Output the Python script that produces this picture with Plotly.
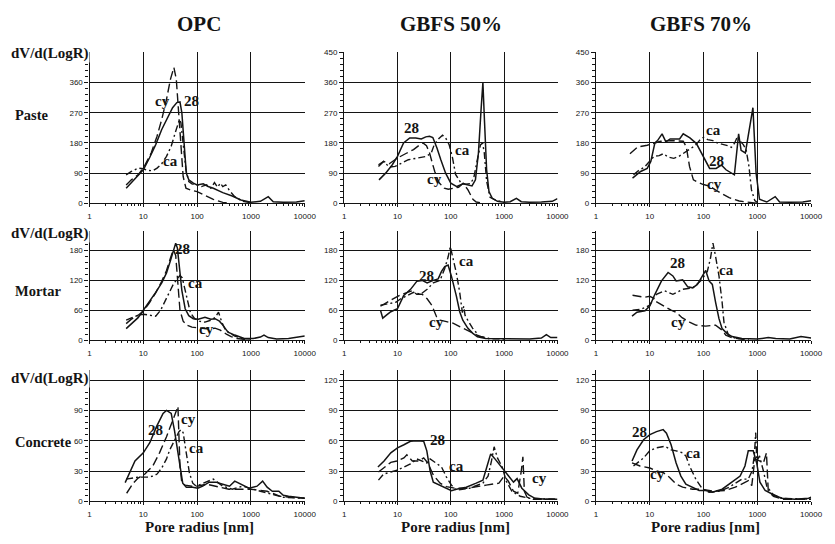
import math
import plotly.graph_objects as go
from plotly.subplots import make_subplots

# ---------------- Pore size distributions: dV/d(logR) vs pore radius [nm] ----------------
# Series per panel: "28" (solid), "ca" (dash-dot), "cy" (dashed)

# OPC - Paste
OPC_PASTE_28_R = [4.8, 6, 8, 10, 13, 17, 22, 28, 35, 42, 48, 52, 57, 63, 70, 85, 100, 130, 160, 200, 300, 450, 650, 1000, 1500, 2100, 2600, 4000, 7000, 10000]
OPC_PASTE_28_V = [45, 62, 82, 100, 135, 175, 220, 255, 285, 300, 302, 270, 180, 90, 70, 60, 55, 58, 50, 45, 32, 22, 10, 3, 6, 20, 5, 3, 4, 8]
OPC_PASTE_CA_R = [4.8, 6, 8, 10, 12, 15, 18, 22, 27, 33, 40, 47, 50, 55, 62, 70, 80, 100, 120, 150, 180, 210, 240, 270, 300, 340, 400, 500, 700, 1000]
OPC_PASTE_CA_V = [85, 95, 105, 103, 98, 97, 105, 118, 140, 170, 215, 250, 240, 180, 100, 65, 58, 55, 50, 55, 45, 62, 48, 60, 50, 55, 38, 20, 6, 2]
OPC_PASTE_CY_R = [4.8, 6, 8, 10, 14, 18, 22, 27, 32, 37, 41, 45, 50, 55, 62, 75, 100, 150, 200, 300, 400]
OPC_PASTE_CY_V = [55, 70, 85, 105, 150, 200, 250, 310, 370, 405, 370, 280, 170, 80, 45, 40, 35, 22, 12, 3, 1]

# GBFS 50% - Paste
G50_PASTE_28_R = [4.5, 6, 8, 10, 13, 17, 22, 28, 34, 40, 46, 55, 65, 80, 100, 130, 170, 210, 250, 290, 330, 370, 400, 430, 470, 520, 600, 750, 1000, 1300, 1700, 2100, 3000, 5000, 8000, 10000]
G50_PASTE_28_V = [70, 90, 115, 140, 180, 195, 195, 192, 198, 200, 196, 165, 130, 90, 60, 50, 58, 55, 52, 70, 150, 280, 360, 240, 100, 35, 15, 6, 3, 5, 15, 5, 3, 4, 6, 14]
G50_PASTE_CA_R = [4.4, 5.5, 7, 9, 12, 16, 24, 35, 43, 49, 60, 70, 80, 93, 108, 123, 153, 190, 235, 270, 310, 360, 395, 425, 470, 545, 730, 1000]
G50_PASTE_CA_V = [115, 125, 108, 110, 120, 130, 135, 140, 150, 175, 193, 203, 195, 175, 135, 86, 62, 57, 59, 76, 125, 174, 180, 150, 66, 18, 8, 3]
G50_PASTE_CY_R = [4.4, 5.5, 7, 10, 15, 20, 25, 30, 35, 40, 45, 50, 60, 75, 90, 110, 140, 170, 210, 260, 300, 400]
G50_PASTE_CY_V = [110, 125, 118, 135, 150, 160, 172, 180, 172, 150, 120, 95, 62, 45, 42, 44, 48, 60, 40, 12, 4, 1]

# GBFS 70% - Paste
G70_PASTE_28_R = [4.8, 6.8, 9, 10.5, 12.5, 14, 17, 20, 24, 30, 36, 42, 56, 74, 98, 130, 172, 215, 262, 325, 375, 450, 500, 600, 720, 830, 950, 1100, 1500, 2150, 2600, 4000, 7000, 10000]
G70_PASTE_28_V = [75, 95, 104, 125, 180, 187, 207, 183, 192, 192, 192, 207, 195, 178, 139, 104, 104, 114, 100, 90, 85, 207, 158, 150, 230, 285, 90, 12, 4, 20, 4, 3, 4, 8]
G70_PASTE_CA_R = [5, 6.5, 8, 10, 12, 15, 18, 22, 28, 35, 42, 55, 70, 85, 100, 120, 150, 180, 230, 280, 330, 380, 430, 480, 550, 620, 700, 780, 900, 1000]
G70_PASTE_CA_V = [85, 100, 108, 125, 140, 142, 148, 138, 134, 140, 148, 160, 172, 188, 197, 190, 187, 180, 176, 172, 167, 180, 200, 185, 175, 160, 110, 40, 8, 3]
G70_PASTE_CY_R = [4.3, 6, 9, 12, 16, 25, 35, 42, 48, 55, 65, 80, 100, 130, 175, 240, 300, 460, 700, 1000]
G70_PASTE_CY_V = [148, 168, 173, 178, 185, 187, 187, 185, 168, 110, 70, 62, 56, 51, 38, 25, 17, 7, 2, 0]

# OPC - Mortar
OPC_MORTAR_28_R = [4.8, 6, 8, 10, 13, 17, 22, 27, 32, 37, 40, 43, 47, 52, 60, 70, 85, 105, 140, 180, 215, 260, 300, 375, 500, 750, 1100, 1500, 1750, 2100, 3000, 5000, 10000]
OPC_MORTAR_28_V = [23, 32, 45, 60, 77, 96, 115, 135, 160, 183, 195, 185, 150, 100, 63, 49, 43, 42, 46, 42, 43, 38, 30, 16, 10, 3, 3, 6, 10, 5, 2, 3, 8]
OPC_MORTAR_CA_R = [4.8, 6, 8, 10, 13, 17, 21, 26, 31, 36, 42, 48, 53, 58, 65, 75, 90, 110, 140, 180, 215, 250, 290, 330, 400, 500, 700, 1000]
OPC_MORTAR_CA_V = [40, 45, 50, 52, 50, 48, 60, 82, 100, 112, 122, 130, 125, 105, 80, 55, 43, 38, 36, 40, 45, 56, 35, 22, 14, 8, 3, 2]
OPC_MORTAR_CY_R = [4.8, 6, 8, 10, 13, 17, 22, 27, 32, 36, 40, 44, 48, 55, 65, 80, 100, 130, 170, 215, 270, 350, 430, 550, 800]
OPC_MORTAR_CY_V = [33, 42, 50, 58, 75, 95, 118, 140, 165, 182, 170, 110, 60, 38, 30, 26, 25, 24, 22, 24, 20, 12, 7, 3, 1]

# GBFS 50% - Mortar
G50_MORTAR_28_R = [4.8, 5.3, 6.2, 7.5, 10, 13, 17.6, 23, 29, 36, 47, 58, 67, 77, 89, 103, 127, 147, 168, 208, 256, 316, 450, 1000, 3000, 5000, 6200, 7500, 10000]
G50_MORTAR_28_V = [60, 44, 50, 57, 63, 89, 102, 118, 120, 115, 120, 123, 138, 148, 151, 128, 89, 57, 40, 24, 14, 6.5, 3, 2, 2, 4, 11, 5, 5]
G50_MORTAR_CA_R = [4.8, 6.5, 9.3, 11.5, 15, 20, 27, 36, 47, 63, 77, 89, 98, 110, 127, 147, 165, 175, 185, 208, 256, 340, 520, 1000]
G50_MORTAR_CA_V = [70, 73, 76, 83, 89, 96, 92, 102, 115, 120, 144, 167, 188, 167, 135, 96, 55, 68, 50, 40, 24, 8, 3, 2]
G50_MORTAR_CY_R = [4.8, 7, 9.3, 12, 15, 18.8, 23, 29, 36, 44, 54, 63, 83, 110, 147, 195, 256, 340, 520]
G50_MORTAR_CY_V = [68, 79, 86, 92, 96, 99, 92, 92, 83, 70, 47, 40, 37, 34, 27, 21, 14, 8, 3]

# GBFS 70% - Mortar
G70_MORTAR_28_R = [4.7, 5.8, 8.2, 10.1, 12.5, 16.6, 22, 27, 31, 41, 51, 63, 77, 96, 110, 127, 146, 168, 194, 222, 275, 340, 515, 1000, 1600, 2200, 4000, 6500, 8500, 10000]
G70_MORTAR_28_V = [48, 56, 59, 69, 92, 119, 136, 129, 119, 121, 107, 105, 112, 129, 140, 119, 112, 76, 43, 23, 13, 7, 3, 2, 5, 3, 2, 7, 5, 4]
G70_MORTAR_CA_R = [4.8, 7, 10, 13.4, 19, 27, 41, 63, 89, 118, 135, 150, 168, 194, 222, 240, 290, 400, 700]
G70_MORTAR_CA_V = [60, 62, 70, 92, 99, 92, 102, 105, 119, 138, 165, 195, 168, 129, 76, 36, 10, 3, 2]
G70_MORTAR_CY_R = [4.8, 6, 8, 10, 11.5, 13, 16, 20.5, 25, 31, 40, 55, 72, 110, 168, 222, 260, 350, 600]
G70_MORTAR_CY_V = [90, 88, 86, 88, 85, 78, 72, 66, 60, 56, 45, 36, 30, 28, 30, 20, 10, 4, 1]

# OPC - Concrete
OPC_CONC_28_R = [4.6, 5.7, 7, 10, 13.2, 17.6, 23.3, 27, 33, 38, 42, 47, 54, 63, 83, 103, 127, 168, 223, 300, 400, 500, 600, 920, 1300, 1650, 2000, 2500, 3300, 4000, 5000, 7000, 10000]
OPC_CONC_28_V = [18.5, 30, 40, 48, 58, 74, 87, 90, 87, 70, 55, 40, 18, 14, 14, 13, 15, 19, 19, 17, 15, 20, 18, 13, 15, 20, 14, 10, 10, 6, 5, 4, 3]
OPC_CONC_CA_R = [4.8, 6, 8, 10, 12, 15, 18, 22, 27, 31, 36, 41, 46, 50, 55, 62, 72, 83, 96, 130, 200, 300, 450, 700, 1000, 1500, 2500, 4000, 10000]
OPC_CONC_CA_V = [22, 23, 24, 24, 24, 25, 27, 33, 42, 51, 58, 64, 69, 71, 68, 50, 28, 18, 15, 18, 22, 15, 12, 15, 13, 10, 7, 4, 3]
OPC_CONC_CY_R = [4.9, 6.5, 8, 10.7, 15, 20, 27, 35.7, 40, 44, 46, 48, 52, 60, 80, 100, 150, 250, 390, 600, 1000, 2000, 3500, 10000]
OPC_CONC_CY_V = [8, 18, 23, 27, 35, 48, 64, 80, 88, 94, 70, 35, 18, 16, 15, 15, 17, 14, 12, 12, 12, 10, 5, 3]

# GBFS 50% - Concrete
G50_CONC_28_R = [4.3, 5.6, 7.5, 10, 13.2, 17.5, 23, 31, 35.5, 41, 47, 63, 83, 103, 127, 195, 300, 400, 480, 560, 650, 800, 920, 1230, 1500, 1750, 2150, 2900, 3800, 6000, 10000]
G50_CONC_28_V = [34, 40, 48, 53, 56, 59.5, 60, 59.5, 50, 30, 19, 16, 13, 10.6, 12, 14, 18, 21, 35, 47, 43, 37, 32, 24, 19, 22.5, 13, 6.4, 3, 2, 2]
G50_CONC_CA_R = [4.4, 5.5, 7.5, 10, 13.2, 17.5, 23, 29, 35, 41, 54, 67, 83, 103, 127, 225, 400, 500, 580, 650, 750, 920, 1100, 1400, 2000, 3000, 10000]
G50_CONC_CA_V = [21, 27, 29, 31, 34, 37, 42, 40, 38, 42, 37, 34, 24, 16, 11, 13, 18, 25, 40, 54, 43, 34, 20, 10, 5, 3, 2]
G50_CONC_CY_R = [4.4, 6, 7.5, 10, 13.2, 15, 19, 25, 31, 37, 47, 63, 83, 120, 200, 460, 800, 1000, 1200, 1500, 1800, 2100, 2250, 2400, 2700, 3500, 10000]
G50_CONC_CY_V = [29, 35, 38.6, 40, 43, 46, 40, 40, 43, 38, 26, 18, 14.5, 13, 13, 16, 18, 25, 20, 10, 8, 30, 44, 10, 4, 2, 2]

# GBFS 70% - Concrete
G70_CONC_28_R = [4.7, 5.8, 7.7, 10.1, 13.4, 17.8, 20.5, 25, 31, 38, 47, 63, 83, 110, 146, 222, 340, 480, 590, 680, 840, 975, 1120, 1400, 1850, 2800, 5000, 9000, 10000]
G70_CONC_28_V = [40, 51, 61, 66, 69, 71, 67.5, 56, 38, 25, 17, 14, 10.7, 10.7, 9, 12, 19, 25, 35, 50, 50, 38, 19, 10.7, 7.5, 3, 2, 3, 4]
G70_CONC_CA_R = [5, 7.7, 10, 13.4, 19, 25, 31, 41, 47, 55, 72, 96, 127, 200, 300, 515, 680, 800, 880, 935, 980, 1100, 1300, 1500, 2000, 3000, 10000]
G70_CONC_CA_V = [35, 43, 50, 53, 54.5, 51, 50, 48, 45, 35, 22, 12, 9, 10, 14, 22, 22, 30, 45, 68, 40, 45, 30, 15, 6, 3, 2]
G70_CONC_CY_R = [4.7, 6.6, 10.1, 13.4, 17.8, 23.5, 31, 41, 63, 96, 150, 255, 390, 515, 680, 790, 900, 1100, 1300, 1480, 1600, 2000, 3000, 10000]
G70_CONC_CY_V = [38, 35, 33, 30, 28.5, 23.7, 17, 14, 12, 12, 10, 10.7, 14, 17, 20.4, 15.6, 42, 40, 38, 48, 10, 5, 2, 2]

# Curve labels: (text, radius, value) per panel
OPC_PASTE_LABELS = [("cy", 22.8, 306), ("28", 78, 304), ("ca", 32.4, 125)]
G50_PASTE_LABELS = [("28", 18.5, 223), ("ca", 165, 159), ("cy", 49.7, 71.5)]
G70_PASTE_LABELS = [("ca", 151, 218), ("28", 174, 127), ("cy", 162, 57)]
OPC_MORTAR_LABELS = [("28", 52.8, 183), ("ca", 92.7, 115.5), ("cy", 151, 21.8)]
G50_MORTAR_LABELS = [("28", 34.9, 128.6), ("ca", 201, 158.8), ("cy", 53.3, 36.4)]
G70_MORTAR_LABELS = [("28", 32.4, 155), ("ca", 265, 141.8), ("cy", 34.7, 36)]
OPC_CONC_LABELS = [("28", 16.7, 71), ("cy", 70, 81.8), ("ca", 99, 52.6)]
G50_CONC_LABELS = [("28", 57, 60.8), ("ca", 130, 34.8), ("cy", 4600, 23.4)]
G70_CONC_LABELS = [("28", 6.4, 68.8), ("ca", 65, 47.7), ("cy", 14, 26.7)]

COLUMN_TITLES = ["OPC", "GBFS 50%", "GBFS 70%"]
ROW_TITLES = ["Paste", "Mortar", "Concrete"]
X_TICKS = [1, 10, 100, 1000, 10000]
X_MINOR = [m * 10 ** k for k in range(4) for m in range(2, 10)]
Y_TICKS = [[0, 90, 180, 270, 360, 450], [0, 60, 120, 180], [0, 30, 60, 90, 120]]
Y_RANGES = [[0, 450], [0, 220], [0, 130]]
Y_MINOR = [18, 12, 6]

PANELS = [
    [(OPC_PASTE_28_R, OPC_PASTE_28_V, OPC_PASTE_CA_R, OPC_PASTE_CA_V, OPC_PASTE_CY_R, OPC_PASTE_CY_V, OPC_PASTE_LABELS),
     (G50_PASTE_28_R, G50_PASTE_28_V, G50_PASTE_CA_R, G50_PASTE_CA_V, G50_PASTE_CY_R, G50_PASTE_CY_V, G50_PASTE_LABELS),
     (G70_PASTE_28_R, G70_PASTE_28_V, G70_PASTE_CA_R, G70_PASTE_CA_V, G70_PASTE_CY_R, G70_PASTE_CY_V, G70_PASTE_LABELS)],
    [(OPC_MORTAR_28_R, OPC_MORTAR_28_V, OPC_MORTAR_CA_R, OPC_MORTAR_CA_V, OPC_MORTAR_CY_R, OPC_MORTAR_CY_V, OPC_MORTAR_LABELS),
     (G50_MORTAR_28_R, G50_MORTAR_28_V, G50_MORTAR_CA_R, G50_MORTAR_CA_V, G50_MORTAR_CY_R, G50_MORTAR_CY_V, G50_MORTAR_LABELS),
     (G70_MORTAR_28_R, G70_MORTAR_28_V, G70_MORTAR_CA_R, G70_MORTAR_CA_V, G70_MORTAR_CY_R, G70_MORTAR_CY_V, G70_MORTAR_LABELS)],
    [(OPC_CONC_28_R, OPC_CONC_28_V, OPC_CONC_CA_R, OPC_CONC_CA_V, OPC_CONC_CY_R, OPC_CONC_CY_V, OPC_CONC_LABELS),
     (G50_CONC_28_R, G50_CONC_28_V, G50_CONC_CA_R, G50_CONC_CA_V, G50_CONC_CY_R, G50_CONC_CY_V, G50_CONC_LABELS),
     (G70_CONC_28_R, G70_CONC_28_V, G70_CONC_CA_R, G70_CONC_CA_V, G70_CONC_CY_R, G70_CONC_CY_V, G70_CONC_LABELS)],
]

# ---------------- layout geometry (pixels of an 835 x 544 page) ----------------
W, H = 835, 544
COL_PX = [(89, 308), (348, 565), (604, 823)]
ROW_PX = [(49.1, 202.7), (230.5, 341.7), (372.2, 505.7)]   # (top, bottom)

INK = "#141414"
SERIF = "Liberation Serif"
SANS = "Liberation Sans"
LINE_STYLES = [("solid", 1.5), ("7px,3px,2px,3px", 1.4), ("9px,4px", 1.4)]


def fx(x):
    return x / W


def fy(y):
    return 1 - y / H


fig = make_subplots(rows=3, cols=3)

annotations = []
for ri in range(3):
    for ci in range(3):
        n = ri * 3 + ci + 1
        sfx = "" if n == 1 else str(n)
        r28, v28, rca, vca, rcy, vcy, labels = PANELS[ri][ci]
        for (rr, vv), (dash, lw) in zip([(r28, v28), (rca, vca), (rcy, vcy)], LINE_STYLES):
            fig.add_trace(
                go.Scatter(x=rr, y=vv, mode="lines", showlegend=False, hoverinfo="skip",
                           line=dict(color=INK, width=lw, dash=dash)),
                row=ri + 1, col=ci + 1)

        x0, x1 = COL_PX[ci]
        yt, yb = ROW_PX[ri]
        yticks = Y_TICKS[ri]
        ytext = [str(t) for t in yticks]
        if ci == 0 and ri != 1:
            ytext[-1] = ""  # top label sits under the dV/d(LogR) caption
        fig.layout["xaxis" + sfx].update(
            type="log", range=[0, 4.002], domain=[fx(x0), fx(x1)],
            tickvals=X_TICKS, ticktext=[str(t) for t in X_TICKS],
            ticks="outside", ticklen=3, tickwidth=1, tickcolor=INK,
            minor=dict(ticks="outside", ticklen=2, tickwidth=1, tickcolor=INK,
                       tickmode="array", tickvals=X_MINOR, showgrid=False),
            showgrid=True, gridcolor=INK, gridwidth=1,
            showline=True, linecolor=INK, linewidth=1.2, mirror=False,
            zeroline=False, tickfont=dict(family=SANS, size=8, color=INK), ticklabelstandoff=2)
        fig.layout["yaxis" + sfx].update(
            range=[Y_RANGES[ri][0], Y_RANGES[ri][1]], domain=[fy(yb), fy(yt)],
            tickvals=yticks, ticktext=ytext,
            ticks="outside", ticklen=4, tickwidth=1, tickcolor=INK,
            minor=dict(ticks="outside", ticklen=3, tickwidth=1, tickcolor=INK, dtick=Y_MINOR[ri], showgrid=False),
            showgrid=True, gridcolor=INK, gridwidth=1,
            showline=True, linecolor=INK, linewidth=1.2, mirror=False,
            zeroline=False, tickfont=dict(family=SANS, size=8, color=INK))

        for txt, rr, vv in labels:
            annotations.append(dict(
                x=math.log10(rr), y=vv, xref="x" + sfx, yref="y" + sfx, text="<b>%s</b>" % txt,
                showarrow=False, xanchor="center", yanchor="middle",
                font=dict(family=SERIF, size=15, color=INK)))

# column headings
for title, cx in zip(COLUMN_TITLES, [200, 457, 711]):
    annotations.append(dict(x=fx(cx), y=fy(20), xref="paper", yref="paper", text="<b>%s</b>" % title,
                            showarrow=False, xanchor="center", yanchor="middle",
                            font=dict(family=SERIF, size=21, color=INK)))

# row headings and y-axis captions
for title, cy, capy in zip(ROW_TITLES, [113, 292, 445], [50, 233, 381]):
    annotations.append(dict(x=fx(11), y=fy(cy), xref="paper", yref="paper", text="<b>%s</b>" % title,
                            showarrow=False, xanchor="left", yanchor="middle",
                            font=dict(family=SERIF, size=14.5, color=INK)))
    annotations.append(dict(x=fx(89), y=fy(capy), xref="paper", yref="paper", text="<b>dV/d(LogR)</b>",
                            showarrow=False, xanchor="right", yanchor="middle", bgcolor="white",
                            borderpad=0, font=dict(family=SERIF, size=15, color=INK)))

# x-axis captions
for cx in [201, 461, 715]:
    annotations.append(dict(x=fx(cx), y=fy(532), xref="paper", yref="paper", text="<b>Pore radius [nm]</b>",
                            showarrow=False, xanchor="center", yanchor="middle",
                            font=dict(family=SERIF, size=15, color=INK)))

fig.update_layout(
    width=W, height=H, margin=dict(l=0, r=0, t=0, b=0),
    paper_bgcolor="white", plot_bgcolor="white",
    annotations=annotations, showlegend=False)

fig.write_html("out.html")
